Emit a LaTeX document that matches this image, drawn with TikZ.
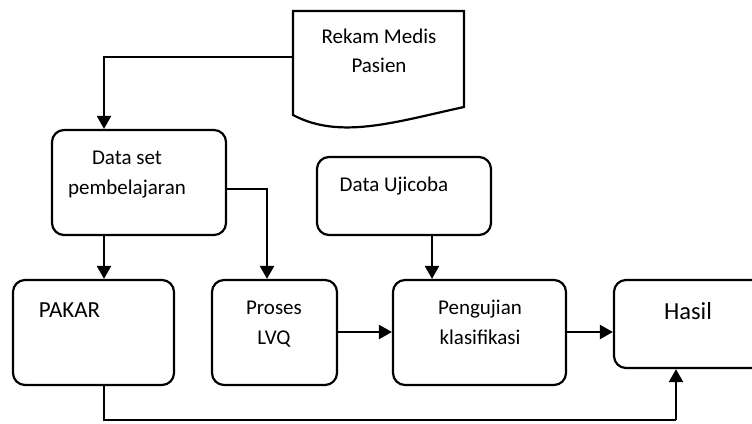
\documentclass[tikz,border=0pt]{standalone}
\usepackage{fontspec}
\setmainfont{Carlito}
\usetikzlibrary{arrows.meta}
\begin{document}
\begin{tikzpicture}[x=1pt,y=-1pt,
  box/.style={draw,line width=2.2pt,rounded corners=12pt,inner sep=0pt},
  txt/.style={inner sep=0pt,anchor=base,font=\fontsize{21}{25}\selectfont},
  big/.style={inner sep=0pt,anchor=base,font=\fontsize{24.5}{28}\selectfont},
  conn/.style={line width=2.2pt},
  arr/.style={line width=2.2pt,-{Triangle[length=13pt,width=14pt]}}]
\useasboundingbox (0,0) rectangle (752,423);
\clip (0,0) rectangle (752,423);
% document shape
\draw[line width=2.2pt,line join=miter] (293,115) -- (293,11) -- (464,11) -- (464,107)
  .. controls (395,122) and (340,140) .. cycle;
\coordinate (docl) at (293,57);
\node[txt] (rm1) at (379,43) {Rekam Medis};
\node[txt] (rm2) at (379,72) {Pasien};
% boxes
\node[box,minimum width=174pt,minimum height=105pt] (ds) at (139,182.5) {};
\node[txt] (ds1) at (127,164) {Data set};
\node[txt] (ds2) at (127,194) {pembelajaran};
\node[box,minimum width=174pt,minimum height=78pt] (du) at (404,196) {};
\node[txt] (du1) at (394,191) {Data Ujicoba};
\node[box,minimum width=161pt,minimum height=105pt] (pk) at (93.5,332.5) {};
\node[big,font=\fontsize{23}{27}\selectfont] (pk1) at (69.5,317) {PAKAR};
\node[box,minimum width=125pt,minimum height=105pt] (lvq) at (274.5,332.5) {};
\node[txt] (lvq1) at (274,314) {Proses};
\node[txt] (lvq2) at (274,344) {LVQ};
\node[box,minimum width=173pt,minimum height=105pt] (pu) at (479.5,332.5) {};
\node[txt] (pu1) at (480,314) {Pengujian};
\node[txt] (pu2) at (480,344) {klasifikasi};
\node[box,minimum width=200pt,minimum height=88pt] (ha) at (714,324) {};
\node[big] (ha1) at (688,319) {Hasil};
% connectors
\draw[arr] (docl) -| (ds.north -| 104,0);
\draw[arr] (ds.south -| 104,0) -- (pk.north -| 104,0);
\draw[arr] (ds.east |- 0,189) -| (lvq.north -| 267,0);
\draw[arr] (du.south -| 432,0) -- (pu.north -| 432,0);
\draw[arr] (lvq.east |- 0,332) -- (pu.west |- 0,332);
\draw[arr] (pu.east |- 0,332) -- (ha.west |- 0,332);
\coordinate (bl) at (104,420);
\coordinate (br) at (676,420);
\draw[conn] (pk.south -| bl) -- (bl) -- (br);
\draw[arr] (br) -- (ha.south -| br);
\end{tikzpicture}
\end{document}
